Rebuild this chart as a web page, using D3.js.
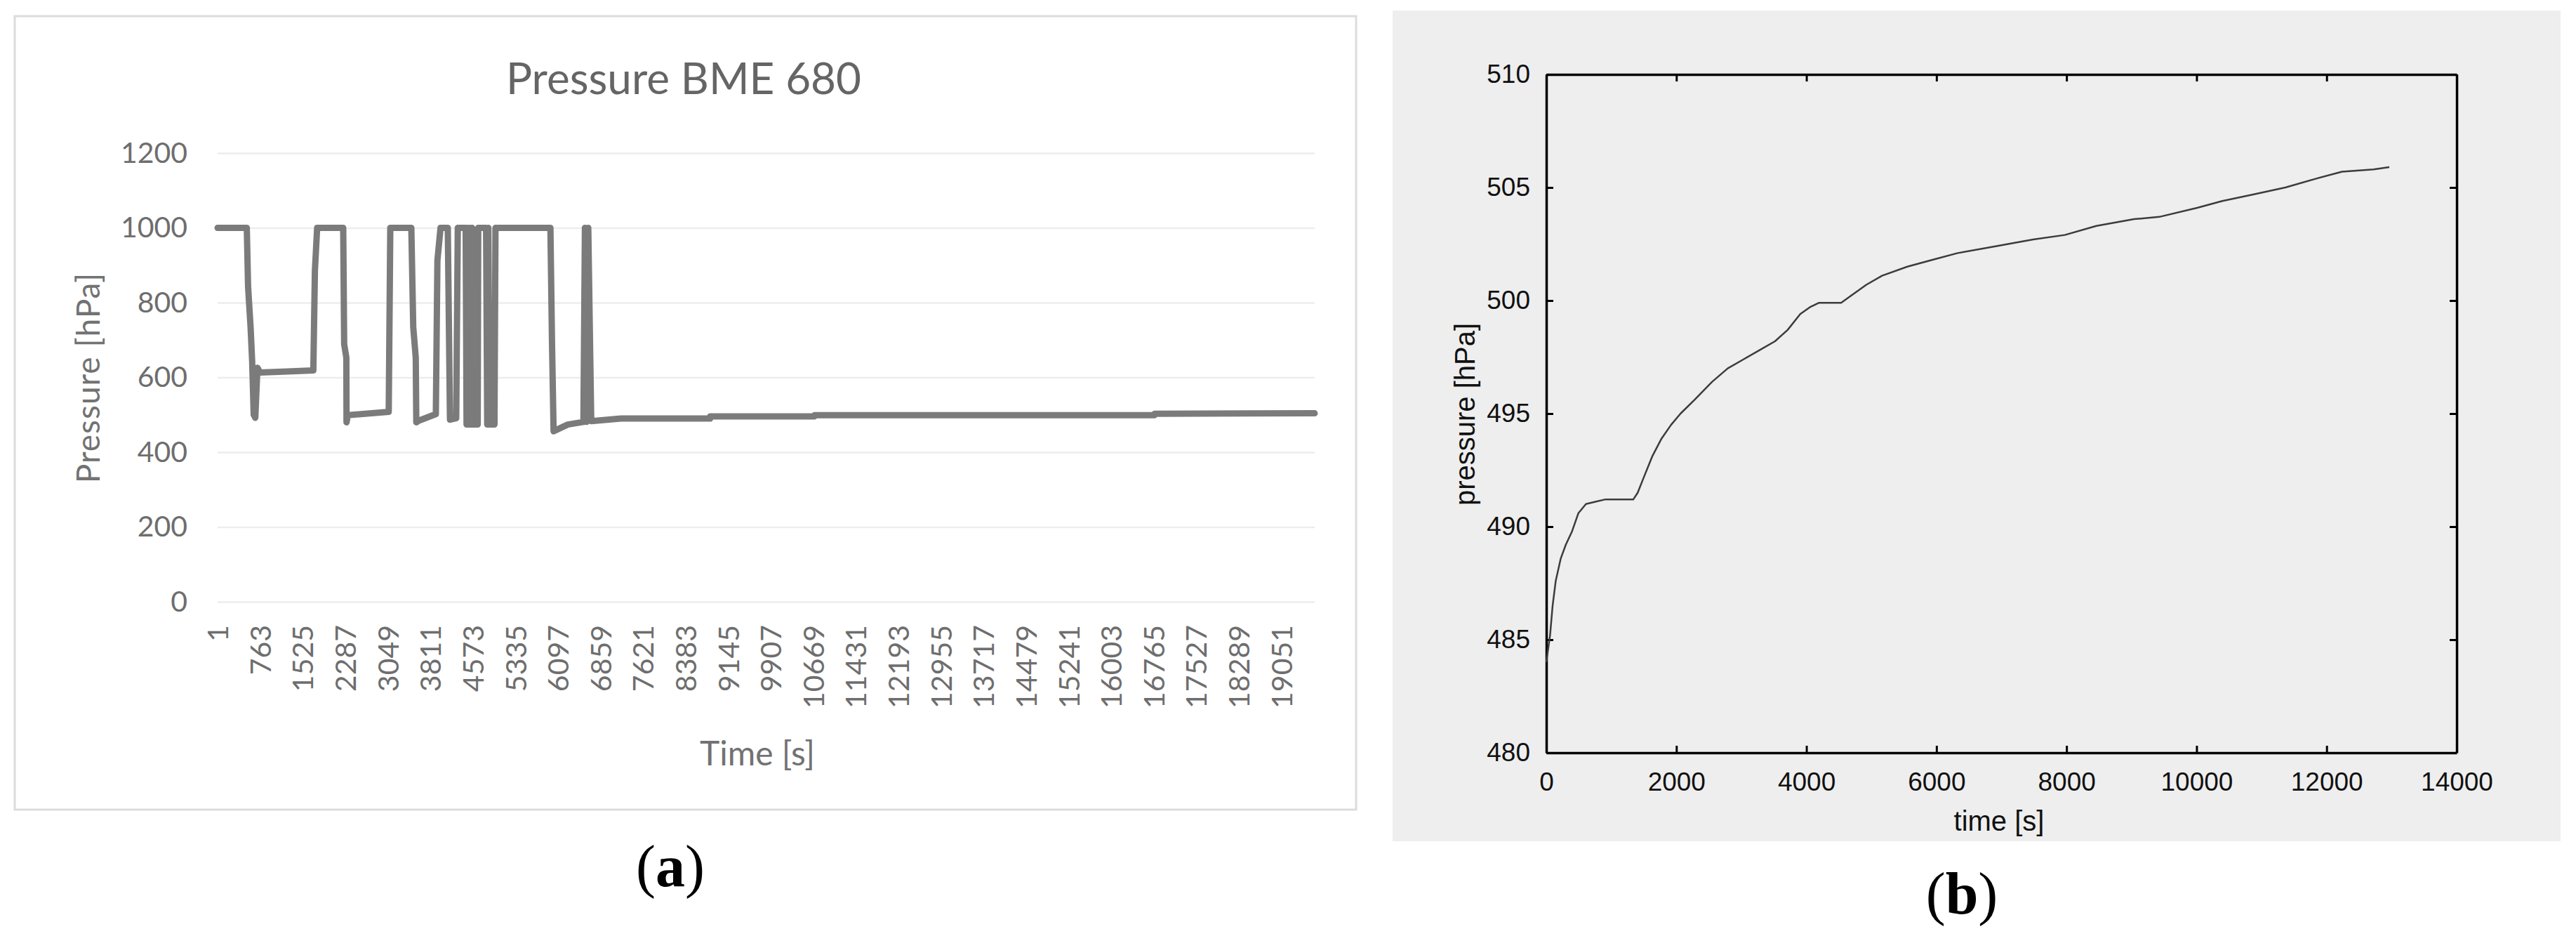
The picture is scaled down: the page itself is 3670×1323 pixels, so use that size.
<!DOCTYPE html>
<html>
<head>
<meta charset="utf-8">
<script src="https://cdn.jsdelivr.net/npm/d3@7"></script>
<style>
  html, body { margin: 0; padding: 0; background: #ffffff; }
  svg { display: block; }
</style>
</head>
<body>
<svg id="chart" width="3670" height="1323"></svg>
<script>
// ---------- Panel (a) data: Pressure BME 680 (sample index vs hPa) ----------
const aIndex = [1, 524, 547, 592, 620, 648, 676, 715, 760, 1100, 1716, 1744, 1784,
  2251, 2268, 2307, 2310, 2335, 3066, 3094, 3471, 3505, 3550, 3560, 3600, 3910, 3938, 3994,
  4124, 4163, 4275, 4303, 4444, 4460, 4480, 4500, 4520, 4540, 4560, 4580, 4660, 4669,
  4810, 4830, 4850, 4870, 4960, 4978, 5962, 5990, 6019, 6272, 6553, 6580, 6610, 6640, 6693,
  7228, 8820, 8825, 10690, 10695, 16780, 16785, 19650];
const aPressure = [1000, 1000, 843, 734, 644, 500, 492, 626, 613, 615, 619, 886, 1000,
  1000, 689, 653, 480, 499, 508, 1000, 1000, 735, 653, 480, 484, 502, 913, 1000,
  1000, 487, 491, 1000, 1000, 474, 1000, 474, 1000, 474, 1000, 474, 474, 1000,
  1000, 474, 1000, 474, 474, 1000, 1000, 698, 456, 474, 481, 1000, 481, 1000, 483,
  490, 490, 496, 496, 499, 499, 503, 504];
const aYTicks = [0, 200, 400, 600, 800, 1000, 1200];
const aXTicks = [1, 763, 1525, 2287, 3049, 3811, 4573, 5335, 6097, 6859, 7621, 8383, 9145,
  9907, 10669, 11431, 12193, 12955, 13717, 14479, 15241, 16003, 16765, 17527, 18289, 19051];

// ---------- Panel (b) data: pressure (time s vs hPa) ----------
const bTime = [0, 58, 97, 145, 223, 300, 397, 494, 610, 756, 901, 1337, 1405, 1502, 1628,
  1773, 1918, 2064, 2277, 2548, 2790, 3033, 3275, 3517, 3711, 3905, 4050, 4195, 4534, 4680,
  4922, 5164, 5552, 5939, 6327, 6908, 7489, 7974, 8458, 9040, 9427, 10008, 10396, 10881,
  11365, 11850, 12237, 12722, 12964];
const bPressure = [484.0, 485.2, 486.5, 487.6, 488.6, 489.2, 489.8, 490.6, 491.0, 491.1,
  491.2, 491.2, 491.5, 492.2, 493.1, 493.9, 494.5, 495.0, 495.6, 496.4, 497.0, 497.4, 497.8,
  498.2, 498.7, 499.4, 499.7, 499.9, 499.9, 500.2, 500.7, 501.1, 501.5, 501.8, 502.1, 502.4,
  502.7, 502.9, 503.3, 503.6, 503.7, 504.1, 504.4, 504.7, 505.0, 505.4, 505.7, 505.8, 505.9];
const bYTicks = [480, 485, 490, 495, 500, 505, 510];
const bXTicks = [0, 2000, 4000, 6000, 8000, 10000, 12000, 14000];

const plain = d => String(d);
const svg = d3.select("#chart");

// ================= Panel (a) =================
const gA = svg.append("g");
gA.append("rect").attr("x", 21).attr("y", 23).attr("width", 1911).attr("height", 1130)
  .attr("fill", "#ffffff").attr("stroke", "#dcdcdc").attr("stroke-width", 3);

const aX = d3.scaleLinear().domain([1, 19650]).range([310, 1873]);
const aY = d3.scaleLinear().domain([0, 1200]).range([857, 218]);

gA.append("text").attr("x", 974).attr("y", 134).attr("text-anchor", "middle")
  .attr("font-family", "Lato, 'Open Sans', sans-serif").attr("font-size", 62)
  .attr("fill", "#656565").text("Pressure BME 680");

const aYAxis = gA.append("g").attr("transform", `translate(${aX.range()[0]},0)`)
  .call(d3.axisLeft(aY).tickValues(aYTicks).tickFormat(plain)
    .tickSize(-(aX.range()[1] - aX.range()[0])).tickPadding(43));
aYAxis.select(".domain").remove();
aYAxis.selectAll(".tick line").attr("stroke", "#ededed").attr("stroke-width", 2.5);
aYAxis.selectAll(".tick text").attr("font-family", "Lato, 'Open Sans', sans-serif")
  .attr("font-size", 41).attr("fill", "#6e6e6e");

const aXAxis = gA.append("g").attr("transform", `translate(0,${aY(0)})`)
  .call(d3.axisBottom(aX).tickValues(aXTicks).tickSize(0).tickFormat(plain));
aXAxis.select(".domain").remove();
aXAxis.selectAll(".tick text")
  .attr("transform", "rotate(-90)")
  .attr("x", -33).attr("y", 0).attr("dy", "0.36em")
  .attr("text-anchor", "end")
  .attr("font-family", "Lato, 'Open Sans', sans-serif")
  .attr("font-size", 41).attr("fill", "#6e6e6e");

gA.append("text").attr("transform", "translate(126,538) rotate(-90)").attr("dy", "0.35em")
  .attr("text-anchor", "middle").attr("letter-spacing", 1)
  .attr("font-family", "Lato, 'Open Sans', sans-serif").attr("font-size", 46)
  .attr("fill", "#727272").text("Pressure [hPa]");

gA.append("text").attr("x", 1079).attr("y", 1090).attr("text-anchor", "middle")
  .attr("font-family", "Lato, 'Open Sans', sans-serif").attr("font-size", 48)
  .attr("fill", "#727272").text("Time [s]");

const aData = aIndex.map((d, i) => [d, aPressure[i]]);
gA.append("path").datum(aData)
  .attr("d", d3.line().x(d => aX(d[0])).y(d => aY(d[1])))
  .attr("fill", "none").attr("stroke", "#7b7b7b").attr("stroke-width", 9)
  .attr("stroke-linejoin", "round").attr("stroke-linecap", "round");

const lblA = svg.append("text").attr("x", 955).attr("y", 1262).attr("text-anchor", "middle")
  .attr("font-family", "'Liberation Serif', 'Times New Roman', serif").attr("font-size", 84)
  .attr("fill", "#000");
lblA.append("tspan").text("(");
lblA.append("tspan").attr("font-weight", "bold").text("a");
lblA.append("tspan").text(")");

// ================= Panel (b) =================
const gB = svg.append("g");
gB.append("rect").attr("x", 1984).attr("y", 15).attr("width", 1664).attr("height", 1183)
  .attr("fill", "#eeeeee");

const bX = d3.scaleLinear().domain([0, 14000]).range([2203, 3500]);
const bY = d3.scaleLinear().domain([480, 510]).range([1072, 106]);
const fontB = "'Liberation Sans', Arial, sans-serif";

function styleAxis(g, showText) {
  g.select(".domain").attr("stroke", "#000").attr("stroke-width", 3.5);
  g.selectAll(".tick line").attr("stroke", "#000").attr("stroke-width", 3);
  if (showText) {
    g.selectAll(".tick text").attr("font-family", fontB).attr("font-size", 37).attr("fill", "#111");
  } else {
    g.selectAll(".tick text").remove();
  }
}

const bBottom = gB.append("g").attr("transform", `translate(0,${bY(480)})`)
  .call(d3.axisBottom(bX).tickValues(bXTicks).tickFormat(plain)
    .tickSizeInner(-10).tickSizeOuter(0).tickPadding(28));
styleAxis(bBottom, true);
const bTop = gB.append("g").attr("transform", `translate(0,${bY(510)})`)
  .call(d3.axisTop(bX).tickValues(bXTicks).tickSizeInner(-10).tickSizeOuter(0));
styleAxis(bTop, false);
const bLeft = gB.append("g").attr("transform", `translate(${bX(0)},0)`)
  .call(d3.axisLeft(bY).tickValues(bYTicks).tickFormat(plain)
    .tickSizeInner(-10).tickSizeOuter(0).tickPadding(23));
styleAxis(bLeft, true);
const bRight = gB.append("g").attr("transform", `translate(${bX(14000)},0)`)
  .call(d3.axisRight(bY).tickValues(bYTicks).tickSizeInner(-10).tickSizeOuter(0));
styleAxis(bRight, false);

const bData = bTime.map((d, i) => [d, bPressure[i]]);
gB.append("path").datum(bData)
  .attr("d", d3.line().x(d => bX(d[0])).y(d => bY(d[1])))
  .attr("fill", "none").attr("stroke", "#3c3c3c").attr("stroke-width", 2.5)
  .attr("stroke-linejoin", "round");

gB.append("text").attr("transform", "translate(2087,590) rotate(-90)").attr("dy", "0.35em")
  .attr("text-anchor", "middle").attr("font-family", fontB).attr("font-size", 40)
  .attr("fill", "#111").text("pressure [hPa]");
gB.append("text").attr("x", 2848).attr("y", 1183).attr("text-anchor", "middle")
  .attr("font-family", fontB).attr("font-size", 40).attr("fill", "#111").text("time [s]");

const lblB = svg.append("text").attr("x", 2795).attr("y", 1301).attr("text-anchor", "middle")
  .attr("font-family", "'Liberation Serif', 'Times New Roman', serif").attr("font-size", 84)
  .attr("fill", "#000");
lblB.append("tspan").text("(");
lblB.append("tspan").attr("font-weight", "bold").text("b");
lblB.append("tspan").text(")");
</script>
</body>
</html>
